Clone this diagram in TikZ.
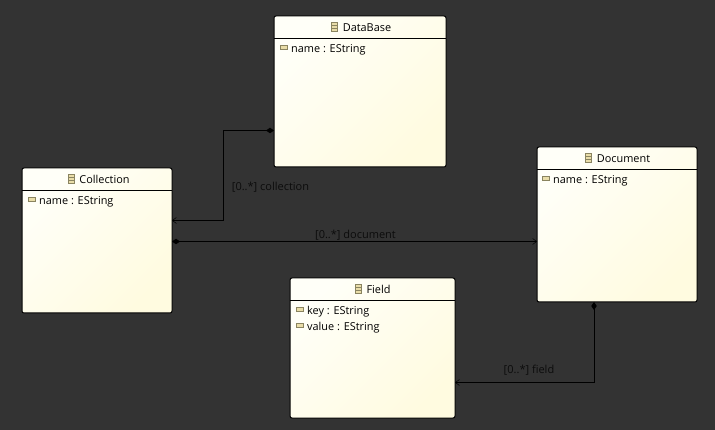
\documentclass[tikz,border=0pt]{standalone}
\usepackage{fontspec}
\setmainfont{Open Sans}
\usetikzlibrary{arrows.meta,calc}
\definecolor{bgc}{HTML}{333333}
\definecolor{lblc}{HTML}{0C0C0C}
\definecolor{iconf}{HTML}{E9DDA8}
\definecolor{icons}{HTML}{8A8460}
\definecolor{boxa}{HTML}{FFFFF8}
\definecolor{boxb}{HTML}{FFFBE0}
\tikzset{
  x=1pt,y=-1pt,
  classbox/.style={draw=black,line width=1pt,rounded corners=2pt,top color=boxa,bottom color=boxb,shading angle=45,inner sep=0,outer sep=0,anchor=north west},
  titletext/.style={font=\fontsize{10.9}{12}\selectfont,text=black,inner sep=0,anchor=base},
  attrtext/.style={font=\fontsize{10.9}{12}\selectfont,text=black,inner sep=0,anchor=base west},
  edgelabel/.style={font=\fontsize{11}{12}\selectfont,text=lblc,inner sep=0,anchor=base},
  headline/.style={draw=black,line width=1pt},
  assoc/.style={draw=black,line width=1pt},
  comp/.style={assoc,{Diamond[length=8pt,width=5.5pt,fill=black]}-{Straight Barb[length=4pt,width=6pt,line width=0.5pt]}},
  classicon/.style={draw=icons,fill=iconf,line width=0.5pt},
  attricon/.style={draw=icons,fill=iconf,line width=0.4pt}
}
\newcommand{\umlclass}[7]{% name, title, x, y, w, h, title x
  \node[classbox,minimum width=#5pt,minimum height=#6pt] (#1) at (#3,#4) {};
  \draw[headline] ($(#1.north west)+(0,22.4)$) -- ($(#1.north east)+(0,22.4)$);
  \node[titletext] (#1t) at (#7,#4+15.8) {#2};
  \draw[classicon] ($(#1t.base west)+(-11,-9.3)$) rectangle ($(#1t.base west)+(-5,-0.3)$);
  \draw[icons,line width=0.4pt] ($(#1t.base west)+(-11,-6.3)$) -- ($(#1t.base west)+(-5,-6.3)$)
    ($(#1t.base west)+(-11,-3.3)$) -- ($(#1t.base west)+(-5,-3.3)$);
}
\newcommand{\umlattr}[4]{% name, x, baseline y, text
  \node[attrtext] (#1) at (#2,#3) {#4};
  \draw[attricon] ($(#1.base west)+(-11,-7.5)$) rectangle ($(#1.base west)+(-4,-4)$);
}
\begin{document}
\begin{tikzpicture}
\path[fill=bgc] (0,0) rectangle (715,430);
\useasboundingbox (0,0) rectangle (715,430);
\umlclass{db}{DataBase}{274}{16}{172}{151}{367}
\umlclass{coll}{Collection}{22}{168}{150}{145}{104.5}
\umlclass{doc}{Document}{537}{147}{160}{155}{623.5}
\umlclass{fld}{Field}{290}{278}{165}{140}{378.5}
\umlattr{a1}{291}{52.8}{name : EString}
\umlattr{a2}{39}{204.8}{name : EString}
\umlattr{a3}{553}{183.8}{name : EString}
\umlattr{a4}{307}{314.8}{key : EString}
\umlattr{a5}{307}{330.8}{value : EString}
\coordinate (dbport) at ($(db.north west)+(0,114.5)$);
\coordinate (collin) at ($(coll.north east)+(0,52.5)$);
\coordinate (collport) at ($(coll.north east)+(0,73.5)$);
\coordinate (docin) at (doc.west |- collport);
\coordinate (docport) at ($(doc.south west)+(57,0)$);
\coordinate (fldin) at ($(fld.north east)+(0,104.5)$);
\draw[comp] (dbport) -- ($(dbport)+(-51,0)$) |- (collin);
\draw[comp] (collport) -- (docin);
\draw[comp] (docport) |- (fldin);
\node[edgelabel] (l1) at (270.5,190.8) {[0..*] collection};
\node[edgelabel] (l2) at (355.5,238.8) {[0..*] document};
\node[edgelabel] (l3) at (529,373.8) {[0..*] field};
\end{tikzpicture}
\end{document}
